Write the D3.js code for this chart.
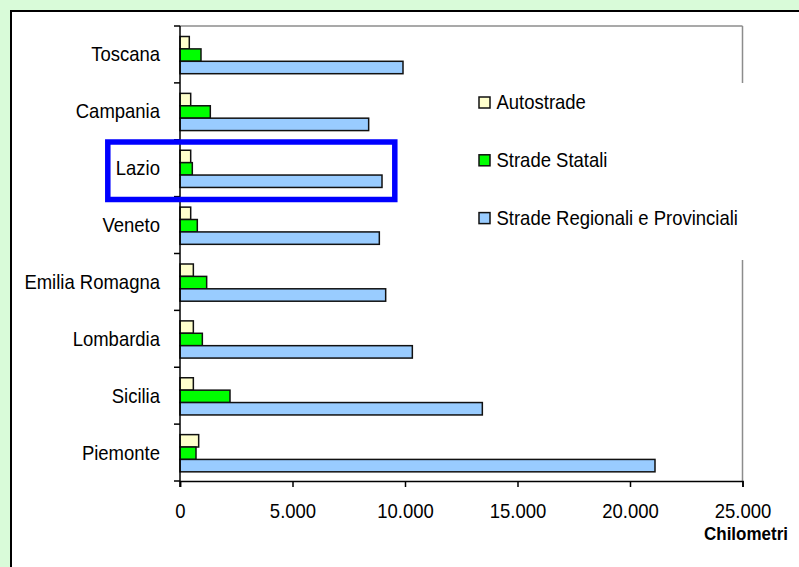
<!DOCTYPE html>
<html>
<head>
<meta charset="utf-8">
<script src="https://cdn.jsdelivr.net/npm/d3@7/dist/d3.min.js"></script>
<style>
  html, body { margin: 0; padding: 0; background: #d9fbd9; }
  svg { display: block; }
  text { font-family: "Liberation Sans", Arial, sans-serif; fill: #000; }
</style>
</head>
<body>
<svg id="chart" width="799" height="567"></svg>
<script>
// Road network length by region (km)
const categories = ["Toscana", "Campania", "Lazio", "Veneto", "Emilia Romagna", "Lombardia", "Sicilia", "Piemonte"];
const seriesNames = ["Autostrade", "Strade Statali", "Strade Regionali e Provinciali"];
const autostrade = [413, 475, 475, 475, 593, 593, 593, 830];
const stradeStatali = [933, 1347, 547, 769, 1185, 993, 2222, 711];
const stradeRegionali = [9911, 8385, 8978, 8859, 9141, 10326, 13437, 21111];
const xTicks = [0, 5000, 10000, 15000, 20000, 25000];
const xTitle = "Chilometri";
const highlighted = "Lazio";

const seriesValues = [autostrade, stradeStatali, stradeRegionali];
const colors = ["#ffffcc", "#00ff00", "#99ccff"];
const textStretch = 1.07; // glyphs are drawn slightly taller than wide

const svg = d3.select("#chart");
const place = (tx, ty) => `translate(${tx},${ty}) scale(1,${textStretch})`;

// background and white panel
svg.append("rect").attr("width", 799).attr("height", 567).attr("fill", "#d9fbd9");
svg.append("rect").attr("x", 11).attr("y", 11).attr("width", 820).attr("height", 600)
  .attr("fill", "#fff").attr("stroke", "#000").attr("stroke-width", 2);

const plotLeft = 180, plotRight = 742.5, plotTop = 26, plotBottom = 481;

const x = d3.scaleLinear().domain([0, 25000]).range([plotLeft, plotRight]);
const y = d3.scaleBand().domain(categories).range([plotTop, plotBottom]);
const inner = d3.scaleBand().domain(seriesNames).range([10.5, 10.5 + 37.2]);

// plot frame (top and right in grey)
svg.append("line").attr("x1", plotLeft).attr("x2", plotRight).attr("y1", plotTop).attr("y2", plotTop)
  .attr("stroke", "#8c8c8c").attr("stroke-width", 1.5);
svg.append("line").attr("x1", plotRight).attr("x2", plotRight).attr("y1", plotTop).attr("y2", plotBottom)
  .attr("stroke", "#8c8c8c").attr("stroke-width", 1.5);

// bars
const rows = categories.map((c, i) => ({ c, vals: seriesValues.map((s, k) => ({ k, name: seriesNames[k], v: s[i] })) }));
const g = svg.append("g");
const groups = g.selectAll("g.cat").data(rows).join("g")
  .attr("transform", d => `translate(0,${y(d.c)})`);
groups.selectAll("rect").data(d => d.vals).join("rect")
  .attr("x", x(0))
  .attr("y", d => inner(d.name))
  .attr("width", d => x(d.v) - x(0))
  .attr("height", inner.bandwidth())
  .attr("fill", d => colors[d.k])
  .attr("stroke", "#111")
  .attr("stroke-width", 1.5);

// y axis with category boundary ticks
svg.append("line").attr("x1", plotLeft).attr("x2", plotLeft).attr("y1", plotTop).attr("y2", plotBottom + 6)
  .attr("stroke", "#000").attr("stroke-width", 1.5);
const bounds = categories.map(c => y(c)).concat([plotBottom]);
svg.selectAll("line.ytick").data(bounds).join("line")
  .attr("class", "ytick")
  .attr("x1", plotLeft - 6).attr("x2", plotLeft).attr("y1", d => d).attr("y2", d => d)
  .attr("stroke", "#000").attr("stroke-width", 1.5);
svg.selectAll("text.cat").data(categories).join("text")
  .attr("class", "cat")
  .attr("transform", d => place(160, y(d) + y.bandwidth() / 2 + 7))
  .attr("text-anchor", "end")
  .attr("font-size", "18.5px")
  .text(d => d);

// x axis
const fmt = v => d3.format(",")(v).replace(/,/g, ".");
const xAxis = d3.axisBottom(x).tickValues(xTicks).tickSize(6).tickPadding(0).tickFormat(fmt);
const ax = svg.append("g").attr("transform", `translate(0,${plotBottom})`).call(xAxis);
ax.select(".domain").attr("stroke", "#000").attr("stroke-width", 1.5);
ax.selectAll(".tick line").attr("stroke", "#000").attr("stroke-width", 1.5);
ax.selectAll(".tick text")
  .attr("y", 0).attr("dy", null)
  .attr("transform", place(0, 36.7))
  .attr("font-family", "'Liberation Sans', Arial, sans-serif")
  .attr("font-size", "18.5px").attr("fill", "#000");

svg.append("text").attr("transform", place(788, 540)).attr("text-anchor", "end")
  .attr("font-size", "17px").attr("font-weight", "bold").text(xTitle);

// legend
const lg = svg.append("g");
lg.append("rect").attr("x", 470).attr("y", 83).attr("width", 280).attr("height", 177).attr("fill", "#fff");
const items = lg.selectAll("g.item").data(seriesNames).join("g")
  .attr("transform", (d, i) => `translate(0,${102.5 + i * 57.8})`);
items.append("rect").attr("x", 479).attr("y", -5.5).attr("width", 11).attr("height", 11)
  .attr("fill", (d, i) => colors[i]).attr("stroke", "#111").attr("stroke-width", 1.5);
items.append("text").attr("transform", place(496.5, 6.8)).attr("font-size", "18.5px").text(d => d);

// highlight box around one region
const hy = y(highlighted);
svg.append("rect")
  .attr("x", 107.8).attr("y", hy + 142 - (plotTop + 2 * y.step()))
  .attr("width", 287).attr("height", 57.5)
  .attr("fill", "none").attr("stroke", "#0000ff").attr("stroke-width", 5.5);
</script>
</body>
</html>
